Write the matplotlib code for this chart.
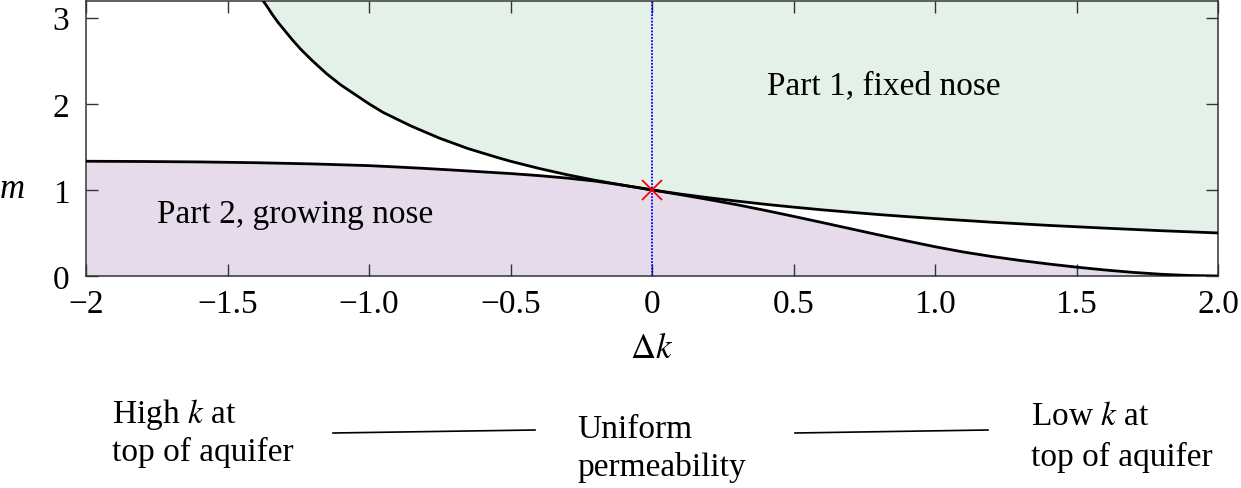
import numpy as np
import matplotlib.pyplot as plt
from matplotlib.lines import Line2D

plt.rcParams['font.family'] = ['Liberation Serif', 'DejaVu Serif']
plt.rcParams['mathtext.fontset'] = 'stix'

# boundary between part 1 (fixed nose) and the rest
dk_upper = [-1.375, -1.36, -1.34, -1.32, -1.3, -1.27, -1.24, -1.2, -1.15, -1.1, -1.05,
            -1.0, -0.95, -0.9, -0.85, -0.8, -0.75, -0.7, -0.65, -0.6, -0.55,
            -0.5, -0.4, -0.3, -0.2, -0.1, 0.0, 0.1, 0.2, 0.3, 0.4, 0.5, 0.6,
            0.7, 0.8, 0.9, 1.0, 1.2, 1.4, 1.6, 1.8, 2.0]
m_upper = [3.20, 3.13, 3.03, 2.94, 2.86, 2.74, 2.63, 2.50, 2.35, 2.22, 2.11,
           2.00, 1.90, 1.82, 1.74, 1.67, 1.60, 1.54, 1.48, 1.43, 1.38,
           1.333, 1.25, 1.176, 1.111, 1.053, 1.00, 0.952, 0.909, 0.870, 0.833, 0.80, 0.769,
           0.741, 0.714, 0.690, 0.667, 0.625, 0.588, 0.556, 0.526, 0.50]

# boundary of part 2 (growing nose)
dk_lower = [-2.0, -1.8, -1.6, -1.4, -1.2, -1.0, -0.9, -0.8, -0.7, -0.6, -0.5,
            -0.4, -0.3, -0.2, -0.1, 0.0, 0.1, 0.2, 0.3, 0.4, 0.5, 0.6, 0.7,
            0.8, 0.9, 1.0, 1.1, 1.2, 1.3, 1.4, 1.5, 1.6, 1.7, 1.8, 1.9, 2.0]
m_lower = [1.333, 1.330, 1.325, 1.316, 1.302, 1.282, 1.266, 1.249, 1.230, 1.210, 1.190,
           1.166, 1.137, 1.102, 1.054, 1.000, 0.945, 0.888, 0.828, 0.762, 0.693, 0.622, 0.550,
           0.478, 0.408, 0.340, 0.279, 0.227, 0.181, 0.140, 0.103, 0.070, 0.042, 0.020, 0.006, 0.0]

xticks = [-2, -1.5, -1.0, -0.5, 0, 0.5, 1.0, 1.5, 2.0]
xlabels = ['\u22122', '\u22121.5', '\u22121.0', '\u22120.5', '0', '0.5', '1.0', '1.5', '2.0']
yticks = [0, 1, 2, 3]

W, H = 1241, 489
fs = 24
fig = plt.figure(figsize=(W / 100, H / 100), dpi=100)
ax = fig.add_axes([86 / W, 1 - 277 / H, (1218 - 86) / W, (277 - 1.5) / H])

ax.fill_between(dk_upper, m_upper, 3.2, color='#e4f1e8', lw=0, zorder=0)
ax.fill_between(dk_lower, 0, m_lower, color='#e5dbea', lw=0, zorder=0)
ax.plot(dk_upper, m_upper, color='black', lw=2.0, zorder=3)
ax.plot(dk_lower, m_lower, color='black', lw=2.0, zorder=3)
ax.axvline(0, color='blue', lw=1.3, ls=(0, (1, 0.8)), zorder=2)
ax.plot([0], [1], marker='x', color='red', ms=14, mew=1.3, zorder=4)

ax.text(0.82, 2.22, 'Part 1, fixed nose', fontsize=fs, ha='center', va='center')
ax.text(-1.26, 0.72, 'Part 2, growing nose', fontsize=fs, ha='center', va='center')

ax.set_xlim(-2, 2)
ax.set_ylim(0, 3.2)
ax.set_xticks(xticks)
ax.set_xticklabels(xlabels)
ax.set_yticks(yticks)
ax.tick_params(direction='in', length=8.5, width=1, top=True, right=True,
               labelsize=fs, color='#333333')
ax.tick_params(axis='x', pad=9)
ax.tick_params(axis='y', pad=12)
for s in ax.spines.values():
    s.set_color('#333333')
    s.set_linewidth(1.1)

fig.text(12 / W, 1 - 190 / H, 'm', fontsize=fs + 1, style='italic', ha='center', va='center')
fig.text(652 / W, 1 - 350 / H, r'$\Delta k$', fontsize=fs + 1, ha='center', va='center')

# annotation underneath
fig.text(112 / W, 1 - 415 / H, 'High $k$ at', fontsize=fs, ha='left', va='center')
fig.text(112 / W, 1 - 452 / H, 'top of aquifer', fontsize=fs, ha='left', va='center')
fig.text(577 / W, 1 - 430 / H, 'Uniform', fontsize=fs, ha='left', va='center')
fig.text(577 / W, 1 - 468 / H, 'permeability', fontsize=fs, ha='left', va='center')
fig.text(1031 / W, 1 - 417 / H, 'Low $k$ at', fontsize=fs, ha='left', va='center')
fig.text(1031 / W, 1 - 457 / H, 'top of aquifer', fontsize=fs, ha='left', va='center')
fig.add_artist(Line2D([333 / W, 535 / W], [1 - 434 / H, 1 - 431 / H], color='black', lw=1.2))
fig.add_artist(Line2D([795 / W, 988 / W], [1 - 434 / H, 1 - 431 / H], color='black', lw=1.2))

fig.savefig('out.png', dpi=100)
